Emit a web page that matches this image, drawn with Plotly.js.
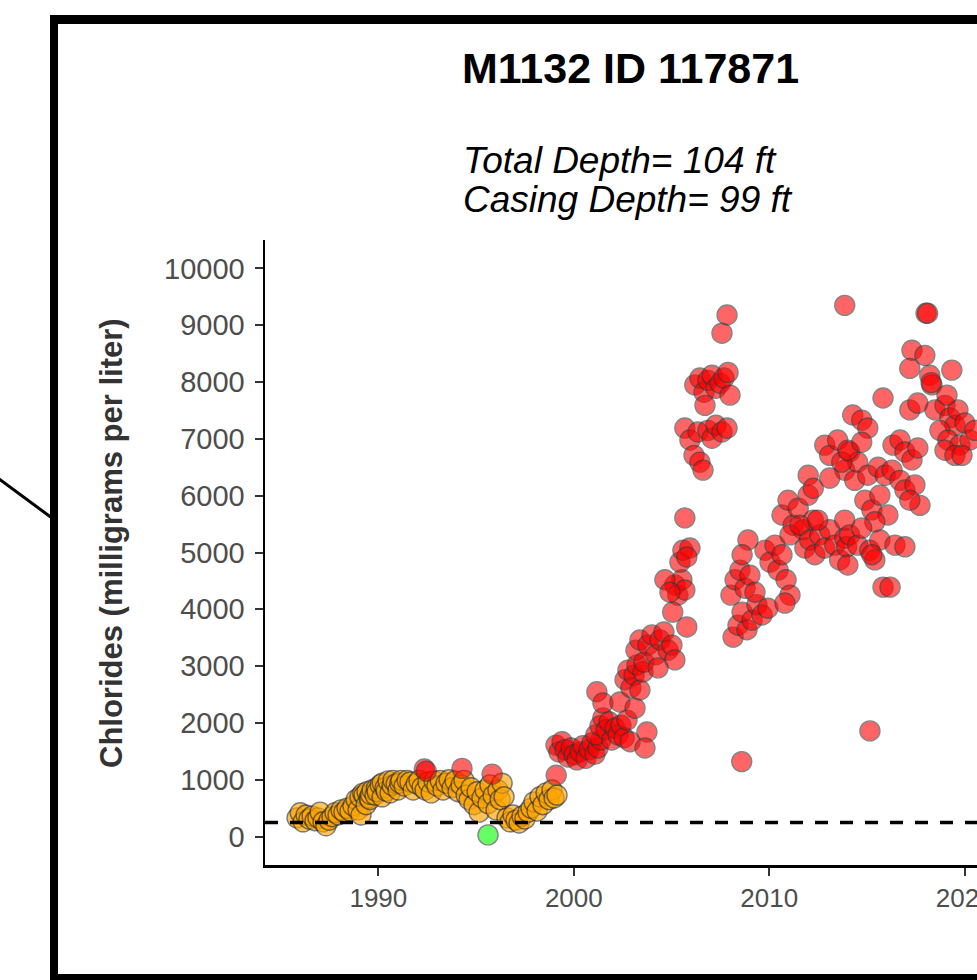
<!DOCTYPE html>
<html><head><meta charset="utf-8">
<script src="https://cdn.plot.ly/plotly-3.0.1.min.js"></script>
<style>
html,body{margin:0;padding:0;overflow:hidden;background:#fff;width:977px;height:980px}
#chart{width:1100px;height:980px}
</style>
</head><body><div id="chart"></div>
<script>
// ---- data (decimal year, chlorides mg/L) ----
const orangeYears=[1985.84,1986.00,1986.15,1986.30,1986.45,1986.61,1986.76,1986.91,1987.02,1987.17,1987.32,1987.48,1987.63,1987.78,1987.94,1988.09,1988.24,1988.40,1988.55,1988.70,1988.86,1988.96,1989.06,1989.11,1989.20,1989.27,1989.37,1989.42,1989.52,1989.57,1989.60,1989.68,1989.83,1989.90,1989.93,1990.09,1990.19,1990.20,1990.34,1990.40,1990.50,1990.60,1990.70,1990.75,1990.91,1991.01,1991.10,1991.16,1991.32,1991.47,1991.62,1991.78,1991.93,1992.08,1992.24,1992.39,1992.54,1992.70,1992.85,1993.00,1993.16,1993.31,1993.46,1993.62,1993.77,1993.92,1994.08,1994.23,1994.38,1994.49,1994.64,1994.74,1994.89,1995.05,1995.15,1995.30,1995.46,1995.61,1995.71,1995.87,1996.02,1996.12,1996.23,1996.33,1996.43,1996.58,1996.74,1996.89,1997.04,1997.20,1997.35,1997.50,1997.66,1997.81,1997.96,1998.12,1998.27,1998.42,1998.58,1998.73,1998.88,1998.99,1999.14];
const orangeValues=[330,420,260,380,310,360,280,330,430,260,190,290,350,420,380,470,430,500,450,540,650,470,700,380,760,730,560,790,680,650,740,820,730,850,790,910,700,940,860,800,980,770,900,990,930,820,940,990,890,990,960,820,930,990,870,820,960,770,980,890,990,820,940,1000,860,980,790,910,990,730,650,860,560,790,430,680,820,580,910,720,470,820,650,940,700,330,260,380,290,240,360,310,430,500,610,450,700,560,770,650,820,680,730];

const greenYears=[1995.61];
const greenValues=[30];

const redYears=[1992.35,1992.45,1994.28,1995.82,1999.10,
1999.09,1999.24,1999.40,1999.55,1999.70,1999.86,2000.01,2000.16,2000.32,2000.47,2000.62,2000.78,2000.93,2001.08,2001.24,2001.39,
2001.13,2001.34,2001.49,2001.65,2001.80,2001.95,2002.11,2002.26,2002.41,2002.57,2002.72,2002.88,
2001.18,2001.49,2002.36,2003.13,2003.74,2003.64,
2002.62,2002.77,2002.92,2003.08,2003.23,2003.38,2003.54,
2003.18,2003.38,2003.59,2003.79,2004.00,2004.20,2004.41,2004.61,2004.82,2005.02,2005.17,2004.31,
2005.17,2005.32,2005.53,2005.68,2005.06,2005.78,2004.66,2004.92,2005.43,2005.58,2005.94,2005.78,2005.68,
2005.68,2005.94,2006.15,2006.35,2006.45,2006.61,2006.86,2007.07,2007.27,2007.58,2007.84,
2006.19,2006.45,2006.66,2006.86,2007.07,2007.27,2007.48,2007.68,2007.89,2007.99,2006.71,2007.84,2007.58,
2008.15,2008.40,2008.61,2008.86,2009.12,2009.37,2009.63,2009.93,
2008.04,2008.25,2008.50,2008.76,2009.01,2009.27,2008.91,2008.61,
2009.78,2010.04,2010.29,2010.45,2010.65,2010.86,2011.06,2010.80,
2010.65,2010.96,2011.22,2011.48,2011.73,2011.99,2012.25,2011.06,2011.99,2012.25,
2011.57,2011.82,2012.07,2012.33,2012.58,2012.84,2013.09,2013.35,2013.60,2013.86,2012.48,2013.96,2014.02,
2012.84,2013.09,2013.50,2013.86,2014.11,2014.37,2014.52,
2013.86,2014.27,2014.73,2015.04,2013.71,2014.02,2014.73,2015.04,2013.09,
2018.02,2018.10,2017.30,2017.96,2017.19,2018.21,2018.32,2018.28,2019.34,2015.82,
2017.19,2017.60,2018.48,2018.99,2019.24,2019.50,2018.73,2019.14,2019.75,2018.99,2019.50,
2016.33,2016.69,2016.94,2017.30,2017.60,2015.57,2015.93,2016.28,2016.69,2016.94,2017.45,2017.71,2017.19,
2014.89,2015.25,2015.66,2016.07,2015.40,2013.86,2014.11,2014.52,2014.73,2015.14,2015.40,2015.66,
2016.43,2016.94,2015.82,2016.18,2015.25,
2019.65,2020.01,2020.27,2020.52,2019.86,2019.09,
2015.15,2008.59];
const redValues=[1190,1150,1200,1100,1080,
1610,1490,1670,1530,1400,1560,1440,1350,1490,1600,1380,1530,1650,1450,1560,1700,
1790,1950,2090,1880,2020,1700,1910,1790,1960,1740,2050,1670,
2550,2350,2370,2260,1840,1560,
2760,2930,2620,2840,3020,2580,2900,
3280,3460,3070,3370,3550,3200,3460,3600,3280,3370,3110,2970,
4430,4250,4520,4340,3950,3690,4520,4300,4830,5040,5080,4920,5610,
7190,6980,6710,7120,6590,6450,7150,7010,7240,7120,7190,
7950,8070,7820,8030,8120,7890,7980,8070,8170,7770,7590,9180,8860,
3510,3720,3950,3640,3810,4080,3900,4020,
4250,4520,4690,4370,4600,4300,5220,4960,
5040,4830,5130,4690,4960,4520,4250,4110,
5660,5920,5480,5780,5400,6010,5570,5310,6360,6130,
5480,5080,5220,4960,5310,5080,5400,5130,4870,5250,5570,5100,4780,
6890,6710,6980,6450,6770,6270,6590,
9350,7420,7330,7190,6590,6800,6940,6360,6310,
9210,9210,8560,8470,8240,8120,7950,7990,8210,7720,
7510,7630,7510,7590,7370,7240,7150,6980,6890,6800,6710,
6890,6980,6770,6630,6840,6500,6360,6450,6270,6100,6190,5830,5920,
5920,5750,6010,5660,5540,5570,5310,5130,5430,5040,4870,5220,
5130,5100,4390,4390,4960,
7510,7280,6980,7150,6710,7770,
1860,1320];

const thresholdValue=250;
const xTickVals=[1990,2000,2010,2020];
const xTickLabels=['1990','2000','2010','2020'];
const yTickVals=[0,1000,2000,3000,4000,5000,6000,7000,8000,9000,10000];
const yTickLabels=['0','1000','2000','3000','4000','5000','6000','7000','8000','9000','10000'];
const titleText='M1132 ID 117871';
const subtitle1='Total Depth= 104 ft';
const subtitle2='Casing Depth= 99 ft';
const yTitle='Chlorides (milligrams per liter)';

// ---- layout geometry ----
const W=1100,H=980,L=265,R=61,T=240,B=115;
const PW=W-L-R, PH=H-T-B;
const px=x=>(x-L)/PW, py=y=>(H-B-y)/PH;
const FONT='Liberation Sans, Arial, sans-serif';

function pts(xs,ys,fill,op){
  return {type:'scatter',mode:'markers',x:xs,y:ys,hoverinfo:'skip',showlegend:false,
    marker:{size:20,color:fill,opacity:op,line:{color:'#333333',width:1.4}}};
}
const data=[pts(orangeYears,orangeValues,'#FFA500',0.65),pts(greenYears,greenValues,'#00FF00',0.6),pts(redYears,redValues,'#FF0000',0.6)];

const axisCommon={showline:true,linecolor:'#000',linewidth:2.5,ticks:'outside',ticklen:8,tickwidth:2,tickcolor:'#333',
  showgrid:false,zeroline:false,fixedrange:true};
const layout={
  width:W,height:H,margin:{l:L,r:R,t:T,b:B,pad:0},
  paper_bgcolor:'#fff',plot_bgcolor:'#fff',showlegend:false,
  xaxis:Object.assign({},axisCommon,{range:[1984.2,2023.8],tickmode:'array',tickvals:xTickVals,ticktext:xTickLabels,
    tickfont:{family:FONT,size:26,color:'#4D4D4D'},ticklabelstandoff:0}),
  yaxis:Object.assign({},axisCommon,{range:[-500,10500],tickmode:'array',tickvals:yTickVals,ticktext:yTickLabels,
    tickfont:{family:FONT,size:29,color:'#4D4D4D'},ticklabelstandoff:4}),
  shapes:[
    {type:'line',xref:'paper',yref:'y',x0:0,x1:1,y0:thresholdValue,y1:thresholdValue,line:{color:'#000',width:3.5,dash:'13px,12px'}},
    {type:'line',xref:'paper',yref:'paper',x0:px(54),x1:px(54),y0:py(15),y1:py(990),line:{color:'#000',width:8}},
    {type:'line',xref:'paper',yref:'paper',x0:px(50),x1:px(1090),y0:py(19.5),y1:py(19.5),line:{color:'#000',width:9}},
    {type:'line',xref:'paper',yref:'paper',x0:px(50),x1:px(1090),y0:py(978),y1:py(978),line:{color:'#000',width:8}},
    {type:'line',xref:'paper',yref:'paper',x0:px(-5),x1:px(52),y0:py(476),y1:py(518),line:{color:'#000',width:3}}
  ],
  annotations:[
    {xref:'paper',yref:'paper',x:px(630),y:py(68),xanchor:'center',yanchor:'middle',showarrow:false,
      text:'<b>'+titleText+'</b>',font:{family:FONT,size:43,color:'#000'}},
    {xref:'paper',yref:'paper',x:px(461),y:py(160),xanchor:'left',yanchor:'middle',showarrow:false,
      text:'<i>'+subtitle1+'</i>',font:{family:FONT,size:37,color:'#000'}},
    {xref:'paper',yref:'paper',x:px(461),y:py(200),xanchor:'left',yanchor:'middle',showarrow:false,
      text:'<i>'+subtitle2+'</i>',font:{family:FONT,size:37,color:'#000'}},
    {xref:'paper',yref:'paper',x:px(111),y:py(543),xanchor:'center',yanchor:'middle',showarrow:false,textangle:-90,
      text:'<b>'+yTitle+'</b>',font:{family:FONT,size:31,color:'#333'}}
  ]
};
Plotly.newPlot('chart',data,layout,{staticPlot:true,displayModeBar:false});
</script>
</body></html>
